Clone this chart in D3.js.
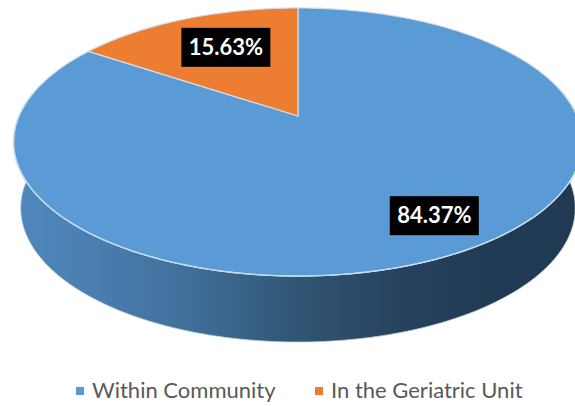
<!DOCTYPE html>
<html>
<head>
<meta charset="utf-8">
<style>
html,body{margin:0;padding:0;background:#fff;overflow:hidden}
svg{display:block}
text{font-family:Lato,"Open Sans",sans-serif}
</style>
<script src="https://cdn.jsdelivr.net/npm/d3@7/dist/d3.min.js"></script>
</head>
<body>
<svg id="chart" width="575" height="406"></svg>
<script>
// Series
const categories = ["Within Community", "In the Geriatric Unit"];
const shares = [84.37, 15.63];
const colours = ["#5b9bd5", "#ed7d31"];

const W = 575, H = 406;
const svg = d3.select("#chart").attr("viewBox", `0 0 ${W} ${H}`);

// Tilted disc: a circle of unit radius seen in perspective, so the far half is foreshortened.
const disc = {cx: 298, r: 279, cy: 116, ky: 106.5, persp: -0.194, depth: 66, baseScale: 0.975};
function project(u, v) {
  const d = 1 + disc.persp * v;
  return [disc.cx + disc.r * u / d, (disc.ky * v + disc.cy) / d];
}
// Pie angles run clockwise from twelve o'clock, v grows toward the viewer.
const rim = a => project(Math.sin(a), -Math.cos(a));

const pie = d3.pie().sort(null).value(d => d);
const slices = pie(shares);

const STEP = Math.PI / 180;
const line = d3.line();

function slicePath(s) {
  const pts = [project(0, 0)];
  const n = Math.ceil((s.endAngle - s.startAngle) / STEP);
  for (let i = 0; i <= n; i++) pts.push(rim(s.startAngle + (s.endAngle - s.startAngle) * i / n));
  return line(pts) + "Z";
}

// Side wall: near half of the rim joined to a slightly narrower base edge below it.
const wallFill = svg.append("defs").append("linearGradient")
  .attr("id", "wallFill").attr("gradientUnits", "userSpaceOnUse")
  .attr("x1", 14).attr("x2", 578).attr("y1", 0).attr("y2", 0);
[[0, "#4f88be"], [0.12, "#4b80b2"], [0.3, "#41709c"], [0.5, "#315675"], [0.68, "#27425f"], [0.85, "#213a53"], [1, "#213a53"]]
  .forEach(([o, c]) => wallFill.append("stop").attr("offset", o).attr("stop-color", c));

const tangent = Math.asin(-disc.persp);              // v at which x peaks
const sweepStart = Math.PI / 2 - tangent;            // right extreme
const sweepEnd = 3 * Math.PI / 2 + tangent;          // left extreme
const nearRim = d3.range(0, 181).map(i => rim(sweepStart + (sweepEnd - sweepStart) * i / 180));
const baseEdge = nearRim.map(([x, y]) => [disc.cx + (x - disc.cx) * disc.baseScale, y + disc.depth]);

svg.append("path")
  .attr("d", line(nearRim.concat(baseEdge.slice().reverse())) + "Z")
  .attr("fill", "url(#wallFill)")
  .attr("stroke", "#c9cfd5")
  .attr("stroke-width", 0.8);

// Top face
svg.append("g").selectAll("path")
  .data(slices)
  .join("path")
  .attr("d", slicePath)
  .attr("fill", (d, i) => colours[i])
  .attr("stroke", "#d4dde6")
  .attr("stroke-width", 1.2)
  .attr("stroke-linejoin", "round");

// Bright lip where the top face meets the wall
svg.append("path")
  .attr("d", line(nearRim))
  .attr("fill", "none")
  .attr("stroke", "#c4dcf2")
  .attr("stroke-width", 1.3);

// Value labels on black plates
const labelSpots = [{angle: 147.7, radius: 0.795}, {angle: -25.9, radius: 0.66}];
const labels = svg.append("g").selectAll("g")
  .data(slices)
  .join("g")
  .attr("transform", (d, i) => {
    const a = labelSpots[i].angle * Math.PI / 180, t = labelSpots[i].radius;
    const [x, y] = project(t * Math.sin(a), -t * Math.cos(a));
    return `translate(${x},${y})`;
  });
labels.append("rect")
  .attr("x", -44.5).attr("y", -19.5).attr("width", 89).attr("height", 39)
  .attr("fill", "#000");
labels.append("text")
  .attr("text-anchor", "middle")
  .attr("y", 7.5)
  .attr("fill", "#fff")
  .attr("font-size", 22)
  .attr("font-weight", 700)
  .text(d => d.value.toFixed(2) + "%");

// Legend
const legendX = [76, 315];
const legend = svg.append("g").selectAll("g")
  .data(categories)
  .join("g")
  .attr("transform", (d, i) => `translate(${legendX[i]},390)`);
legend.append("rect")
  .attr("x", 0).attr("y", -3).attr("width", 8).attr("height", 8)
  .attr("fill", (d, i) => colours[i]);
legend.append("text")
  .attr("x", 16)
  .attr("y", 8)
  .attr("fill", "#595959")
  .attr("font-size", 22)
  .text(d => d);
</script>
</body>
</html>
